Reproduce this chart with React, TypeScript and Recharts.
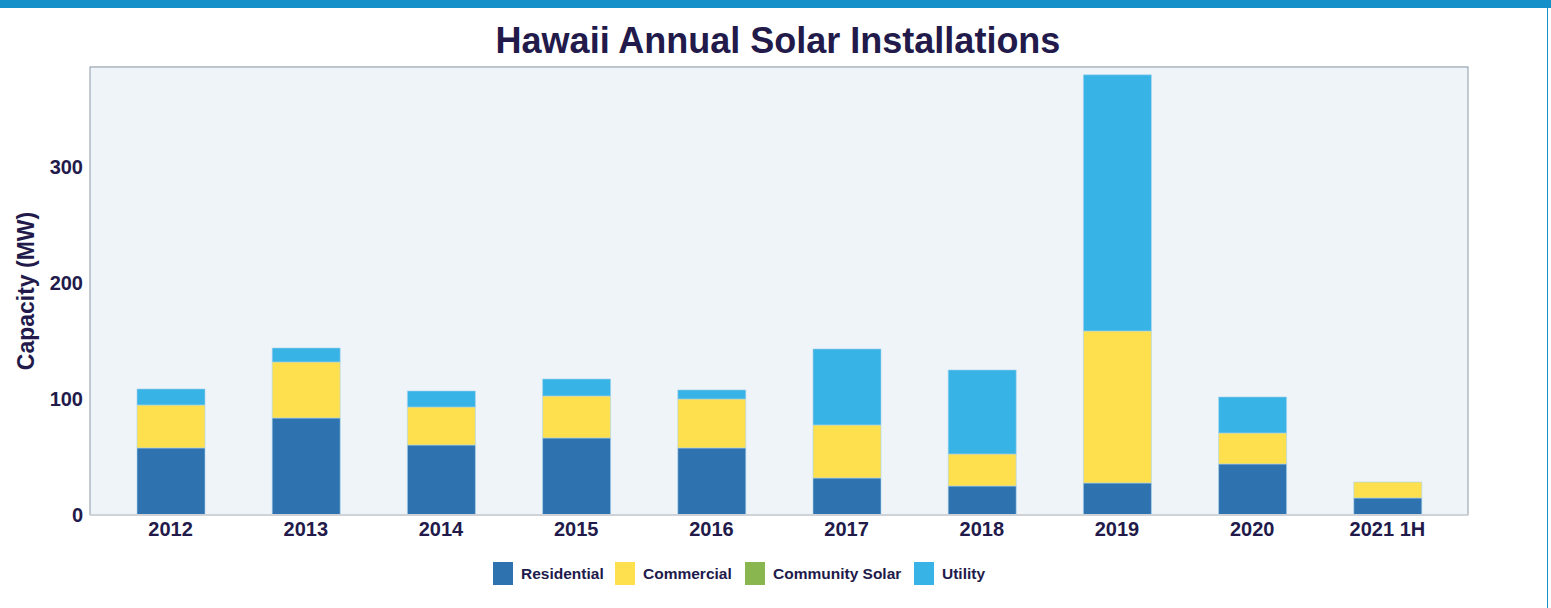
import { BarChart, Bar, XAxis, YAxis, CartesianGrid } from 'recharts';

// values in MW
const years = ['2012', '2013', '2014', '2015', '2016', '2017', '2018', '2019', '2020', '2021 1H'];
const residential = [57.8, 83.6, 60.3, 66.4, 57.8, 31.9, 25.0, 27.6, 44.0, 14.7];
const commercial = [37.0, 48.3, 32.8, 36.2, 42.2, 45.7, 27.6, 131.0, 26.7, 13.7];
const communitySolar = [0, 0, 0, 0, 0, 0, 0, 0, 0, 0];
const utility = [13.8, 12.0, 13.8, 14.6, 7.8, 65.5, 72.4, 220.7, 31.0, 0];
const yTicks = [0, 100, 200, 300];

const navy = '#221a4a';

const series = [
  { key: 'residential', name: 'Residential', color: '#2e72b0' },
  { key: 'commercial', name: 'Commercial', color: '#fee04e' },
  { key: 'community', name: 'Community Solar', color: '#8ab650' },
  { key: 'utility', name: 'Utility', color: '#38b3e6' },
];

const data = years.map((year, i) => ({
  year,
  residential: residential[i],
  commercial: commercial[i],
  community: communitySolar[i],
  utility: utility[i],
}));

export default function App() {
  return (
    <div
      style={{
        position: 'absolute',
        left: 0,
        top: 0,
        width: 1551,
        height: 608,
        background: '#fff',
        fontFamily: '"Liberation Sans", Arial, sans-serif',
        overflow: 'hidden',
      }}
    >
      {/* top band and right edge */}
      <div style={{ position: 'absolute', left: 0, top: 0, width: 1551, height: 8, background: '#1590c9' }} />
      <div style={{ position: 'absolute', left: 1547, top: 0, width: 1, height: 608, background: '#1590c9' }} />

      <div
        style={{
          position: 'absolute',
          top: 20,
          left: 0,
          width: 1556,
          textAlign: 'center',
          fontSize: 36,
          fontWeight: 'bold',
          color: navy,
        }}
      >
        Hawaii Annual Solar Installations
      </div>

      <div style={{ position: 'absolute', left: 0, top: 0 }}>
        <BarChart
          width={1551}
          height={608}
          data={data}
          margin={{ top: 67, right: 83, bottom: 63, left: 0 }}
        >
          <rect x={90} y={67} width={1378} height={448} fill="#eef4f7" stroke="#8d9aa8" strokeWidth={1} />
          <CartesianGrid vertical={false} stroke="#d3d9de" strokeWidth={1} />
          <XAxis
            dataKey="year"
            height={30}
            tickLine={false}
            axisLine={{ stroke: '#cfd3d7', strokeWidth: 2 }}
            tick={{ fill: navy, fontSize: 20, fontWeight: 'bold' }}
            tickMargin={1}
            padding={{ left: 13, right: 13 }}
            interval={0}
          />
          <YAxis
            width={90}
            domain={[0, 386]}
            ticks={yTicks}
            allowDataOverflow
            tickLine={false}
            axisLine={false}
            tick={{ fill: navy, fontSize: 20, fontWeight: 'bold' }}
            tickMargin={1}
            label={{
              value: 'Capacity (MW)',
              angle: -90,
              position: 'insideLeft',
              dx: 21,
              dy: 0,
              style: { fill: navy, fontSize: 23, fontWeight: 'bold', textAnchor: 'middle' },
            }}
          />
          {series.map((s) => (
            <Bar
              key={s.key}
              dataKey={s.key}
              name={s.name}
              stackId="a"
              fill={s.color}
              stroke="#a9d3ef"
              strokeWidth={0.6}
              barSize={68}
              isAnimationActive={false}
            />
          ))}
        </BarChart>
      </div>

      {/* legend */}
      <div style={{ position: 'absolute', top: 562, left: 0, width: 1551, height: 24 }}>
        {series.map((s, i) => {
          const sq = [493, 615, 745, 914][i];
          return (
            <div key={s.key} style={{ position: 'absolute', left: sq, top: 0, display: 'flex', alignItems: 'center' }}>
              <span style={{ display: 'inline-block', width: 20, height: 23, background: s.color }} />
              <span style={{ marginLeft: 8, fontSize: 15.5, fontWeight: 'bold', color: navy }}>{s.name}</span>
            </div>
          );
        })}
      </div>
    </div>
  );
}
